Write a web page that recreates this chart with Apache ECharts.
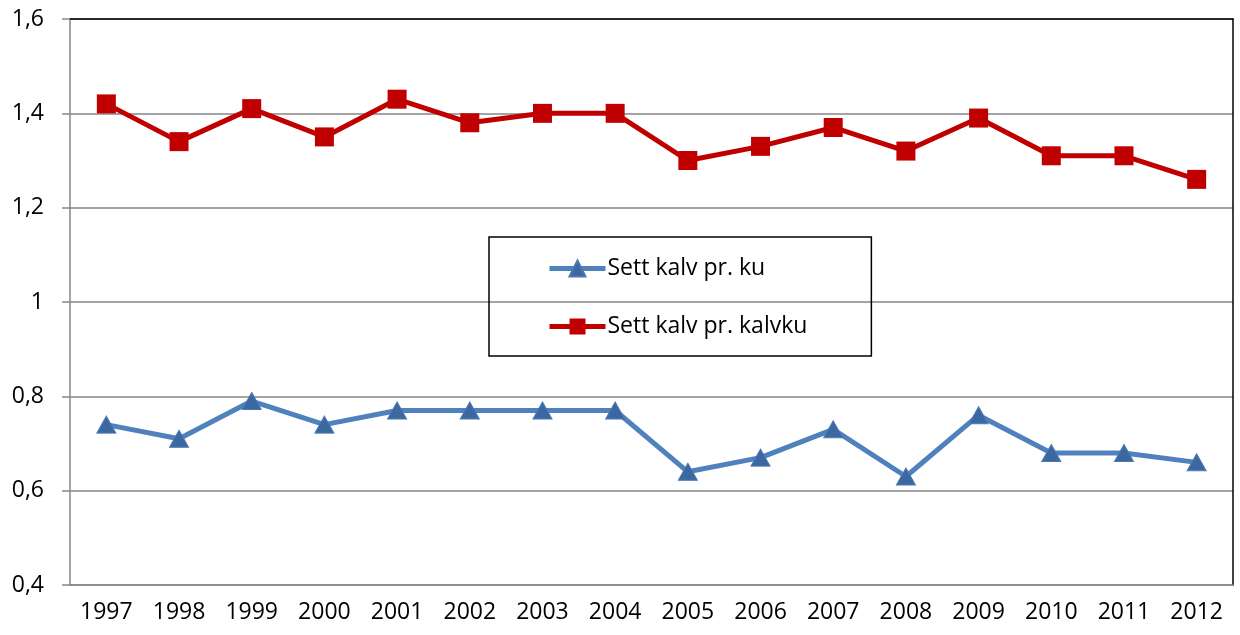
<!DOCTYPE html>
<html>
<head>
<meta charset="utf-8">
<script src="https://cdn.jsdelivr.net/npm/echarts@6/dist/echarts.min.js"></script>
<style>
  html, body { margin: 0; padding: 0; background: #fff; }
  #chart { width: 1240px; height: 635px; }
</style>
</head>
<body>
<div id="chart"></div>
<script>
var years = ['1997', '1998', '1999', '2000', '2001', '2002', '2003', '2004',
  '2005', '2006', '2007', '2008', '2009', '2010', '2011', '2012'];
var kalvPrKu = [0.74, 0.71, 0.79, 0.74, 0.77, 0.77, 0.77, 0.77,
  0.64, 0.67, 0.73, 0.63, 0.76, 0.68, 0.68, 0.66];
var kalvPrKalvku = [1.42, 1.34, 1.41, 1.35, 1.43, 1.38, 1.40, 1.40,
  1.30, 1.33, 1.37, 1.32, 1.39, 1.31, 1.31, 1.26];
var yMin = 0.4, yMax = 1.6, yStep = 0.2;

var font = 'Open Sans';

function fmt(v) {
  // norsk desimalkomma
  return String(Math.round(v * 10) / 10).replace('.', ',');
}

var chart = echarts.init(document.getElementById('chart'));
chart.setOption({
  animation: false,
  textStyle: { fontFamily: font },
  grid: { left: 70, right: 7, top: 19, bottom: 50, containLabel: false },
  legend: {
    orient: 'vertical',
    left: 489,
    top: 237,
    padding: [20, 64, 18, 58],
    itemGap: 35,
    itemWidth: 56,
    itemHeight: 20,
    borderColor: '#000',
    borderWidth: 1.5,
    lineStyle: { width: 5 },
    textStyle: { fontFamily: font, fontSize: 23, color: '#000', padding: [0, 0, 0, -3] },
    data: ['Sett kalv pr. ku', 'Sett kalv pr. kalvku']
  },
  xAxis: [{
    type: 'category',
    data: years,
    boundaryGap: true,
    axisLine: { lineStyle: { color: '#868686', width: 1.5 } },
    axisTick: { length: 8, lineStyle: { color: '#868686', width: 1.5 } },
    axisLabel: { color: '#000', fontSize: 23, margin: 16, interval: 0 }
  }, {
    type: 'category',
    data: years,
    position: 'top',
    axisLine: { lineStyle: { color: '#000', width: 1.5 } },
    axisTick: { show: false },
    axisLabel: { show: false }
  }],
  yAxis: [{
    type: 'value',
    min: yMin,
    max: yMax,
    interval: yStep,
    axisLine: { show: true, lineStyle: { color: '#868686', width: 1.5 } },
    axisTick: { show: true, length: 8, lineStyle: { color: '#868686', width: 1.5 } },
    splitLine: { lineStyle: { color: '#868686', width: 1.5 } },
    axisLabel: { color: '#000', fontSize: 23, margin: 26, formatter: fmt }
  }, {
    type: 'value',
    min: yMin,
    max: yMax,
    position: 'right',
    axisLine: { show: true, lineStyle: { color: '#000', width: 1.5 } },
    axisTick: { show: false },
    axisLabel: { show: false },
    splitLine: { show: false }
  }],
  series: [{
    name: 'Sett kalv pr. ku',
    type: 'line',
    data: kalvPrKu,
    symbol: 'triangle',
    symbolSize: [19, 17],
    lineStyle: { color: '#4F81BD', width: 5 },
    itemStyle: { color: '#3B68A0', borderColor: '#4A78B0', borderWidth: 1 }
  }, {
    name: 'Sett kalv pr. kalvku',
    type: 'line',
    data: kalvPrKalvku,
    symbol: 'rect',
    symbolSize: 19,
    lineStyle: { color: '#C00000', width: 5 },
    itemStyle: { color: '#C00000' }
  }]
});
</script>
</body>
</html>
